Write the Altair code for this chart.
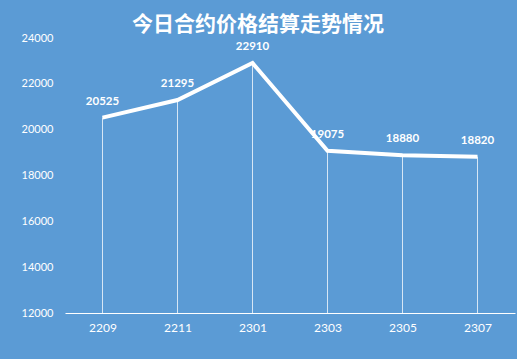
import altair as alt
import pandas as pd

contracts = ["2209", "2211", "2301", "2303", "2305", "2307"]
prices = [20525, 21295, 22910, 19075, 18880, 18820]
y_ticks = [12000, 14000, 16000, 18000, 20000, 22000, 24000]

df = pd.DataFrame({"contract": contracts, "price": prices, "base": [12000] * len(contracts)})

BG = "#5B9BD5"
FONT = "Lato"

x = alt.X("contract:N", sort=contracts, title=None,
          scale=alt.Scale(type="point", padding=0.5),
          axis=alt.Axis(labelAngle=0, labelColor="white", labelFont=FONT, labelFontSize=12,
                        ticks=False, domainColor="white", domainWidth=1.2, labelPadding=9,
                        grid=False))
y = alt.Y("price:Q", title=None,
          scale=alt.Scale(domain=[12000, 24000], nice=False, zero=False),
          axis=alt.Axis(values=y_ticks, labelColor="white", labelFont=FONT, labelFontSize=11,
                        ticks=False, domain=False, grid=False, labelPadding=12, format="d"))

base = alt.Chart(df)

drops = base.mark_rule(color="white", strokeWidth=1, opacity=0.75).encode(
    x=x, y=y, y2="base:Q")

line = base.mark_line(color="white", strokeWidth=4, strokeJoin="miter").encode(x=x, y=y)

labels = base.mark_text(color="white", font=FONT, fontSize=11.5, fontWeight="bold",
                        baseline="middle", dy=-16).encode(x=x, y=y, text="price:Q")

chart = alt.layer(drops, line, labels).properties(
    width=450, height=275,
    background=BG,
    padding={"left": 65, "top": 38, "right": 2, "bottom": 46},
    autosize=alt.AutoSizeParams(type="none"),
    title=alt.TitleParams("今日合约价格结算走势情况", color="white",
                          font="Noto Sans CJK SC", fontSize=21, fontWeight="bold",
                          anchor="middle", offset=-3, dx=-32),
).configure_view(stroke=None, fill=BG)

chart.save("out.html", embed_options={"renderer": "svg", "actions": False})
